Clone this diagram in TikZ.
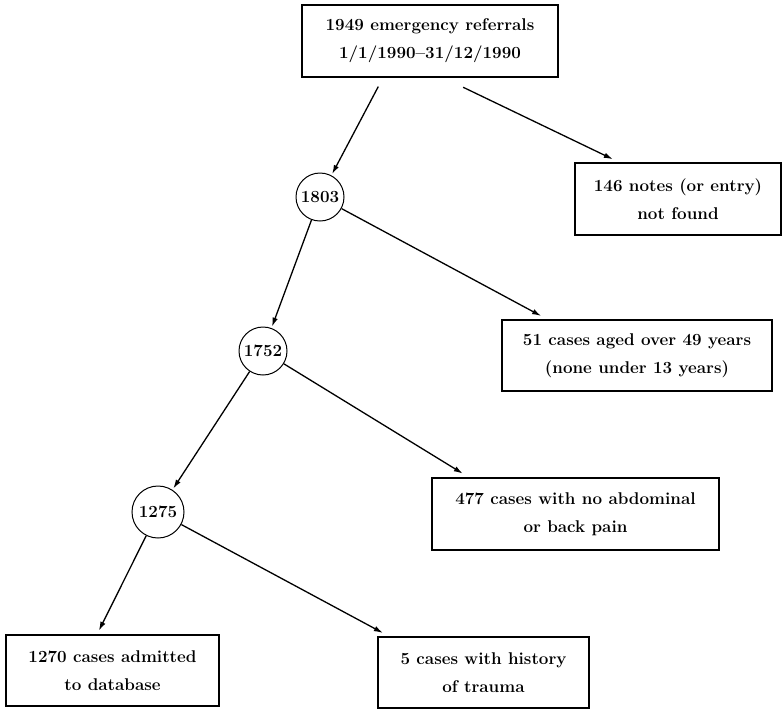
\documentclass[tikz,border=0pt]{standalone}
\usetikzlibrary{arrows.meta,shapes.geometric}
\begin{document}
\begin{tikzpicture}[x=1pt,y=1pt,
  every node/.style={font=\fontsize{17}{28}\selectfont\bfseries},
  box/.style={draw,line width=1.5pt,rectangle,align=center,inner sep=0pt},
  count/.style={draw,line width=1pt,circle,minimum size=48pt,inner sep=0pt},
  flow/.style={line width=1.3pt,-{Latex[length=9pt,width=5.5pt]},shorten >=7pt},
  tocount/.style={flow,shorten >=1.5pt}]
\useasboundingbox (0,0) rectangle (782,-710);
% boxes
\node[box,minimum width=256pt,minimum height=72pt] (top) at (430,-41)
  {1949 emergency referrals\\1/1/1990--31/12/1990};
\node[box,minimum width=206pt,minimum height=72pt] (b146) at (678,-199)
  {146 notes (or entry)\\not found};
\node[box,minimum width=270pt,minimum height=71pt] (b51) at (637,-355.5)
  {51 cases aged over 49 years\\(none under 13 years)};
\node[box,minimum width=287pt,minimum height=72pt] (b477) at (575.5,-514)
  {477 cases with no abdominal\\or back pain};
\node[box,minimum width=213pt,minimum height=71pt] (b1270) at (112.5,-670.5)
  {1270 cases admitted\\to database};
\node[box,minimum width=211pt,minimum height=71pt] (b5) at (483.5,-672.5)
  {5 cases with history\\of trauma};
% running totals
\node[count] (c1803) at (320,-197) {1803};
\node[count] (c1752) at (263,-351) {1752};
\node[count,minimum size=52pt] (c1275) at (158,-512) {1275};
% connectors
\draw[tocount,shorten <=10pt] (top.218) -- (c1803);
\draw[flow,shorten <=22pt] (top.290) -- (b146.148);
\draw[tocount] (c1803) -- (c1752);
\draw[flow] (c1803) -- (b51.158);
\draw[tocount] (c1752) -- (c1275);
\draw[flow] (c1752) -- (b477.161);
\draw[flow,shorten >=4pt] (c1275) -- (b1270.113);
\draw[flow] (c1275) -- (b5.159);
\end{tikzpicture}
\end{document}
